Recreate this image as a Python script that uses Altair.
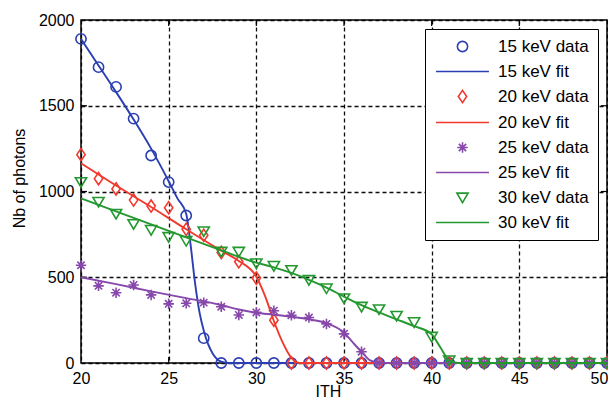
import altair as alt
import pandas as pd

# ---------------- data ----------------
ith = [20, 21, 22, 23, 24, 25, 26, 27, 28, 29, 30, 31, 32, 33, 34, 35,
       36, 37, 38, 39, 40, 41, 42, 43, 44, 45, 46, 47, 48, 49, 50]

counts_15kev = [1890, 1725, 1610, 1425, 1210, 1055, 860, 145, 0, 0, 0, 0, 0, 0, 0, 0,
                0, 0, 0, 0, 0, 0, 0, 0, 0, 0, 0, 0, 0, 0, 0]
counts_20kev = [1215, 1075, 1015, 950, 915, 905, 780, 745, 645, 590, 495, 250, 0, 0, 0, 0,
                0, 0, 0, 0, 0, 0, 0, 0, 0, 0, 0, 0, 0, 0, 0]
counts_25kev = [570, 450, 410, 455, 397, 345, 348, 352, 328, 280, 295, 305, 278, 265, 228, 170,
                66, 0, 0, 0, 0, 0, 0, 0, 0, 0, 0, 0, 0, 0, 0]
counts_30kev = [1055, 940, 870, 810, 776, 735, 712, 768, 649, 649, 581, 566, 542, 484, 435, 377,
                328, 313, 275, 238, 153, 15, 0, 0, 0, 0, 0, 0, 0, 0, 0]

fit_15_x = [20, 21, 22, 23, 24, 25, 25.5, 26, 26.25, 26.5, 26.75, 27, 27.25, 27.5, 28, 28.5, 50]
fit_15_y = [1890, 1735, 1580, 1420, 1250, 1060, 960, 870, 690, 470, 300, 190, 110, 57, 8, 0, 0]
fit_20_x = [20, 22, 24, 26, 28, 29, 30, 30.5, 31, 31.5, 32, 32.5, 50]
fit_20_y = [1165, 1035, 910, 780, 655, 595, 503, 390, 245, 120, 30, 0, 0]
fit_25_x = [20, 22, 24, 26, 28, 29, 30, 31, 32, 33, 34, 35, 35.5, 36, 36.5, 37, 50]
fit_25_y = [500, 460, 418, 378, 338, 312, 293, 282, 270, 255, 232, 177, 120, 65, 15, 0, 0]
fit_30_x = [20, 22, 24, 26, 28, 30, 31, 32, 33, 34, 35, 36, 37, 38, 39, 40, 40.5, 41, 41.5, 50]
fit_30_y = [960, 884, 808, 732, 657, 585, 558, 525, 485, 440, 387, 337, 295, 255, 215, 168, 90, 15, 0, 0]

energies = ["15 keV", "20 keV", "25 keV", "30 keV"]
series_colors = ["#2b3fb2", "#f03a2e", "#8748ab", "#23982f"]

x_tick_values = [25, 30, 35, 40, 45]
y_tick_values = [500, 1000, 1500]

# ---------------- styling ----------------
FONT = "Liberation Sans"
W, H = 526, 343

asterisk = "M0,-1L0,1M-1,0L1,0M-0.7,-0.7L0.7,0.7M-0.7,0.7L0.7,-0.7"
diamond = "M0,-1L0.68,0L0,1L-0.68,0Z"
tri_down = "M-1,-0.78L1,-0.78L0,0.92Z"
legend_line = "M-5,0L5,0"  # long horizontal stroke for the legend's fit entries
marker_shapes = ["circle", diamond, asterisk, tri_down]
marker_sizes = [105, 150, 110, 125]
LINE_SIZE = 112

labels, colors, shapes, sizes = [], [], [], []
for e, c, s, z in zip(energies, series_colors, marker_shapes, marker_sizes):
    labels += [f"{e} data", f"{e} fit"]
    colors += [c, c]
    shapes += [s, legend_line]
    sizes += [z, LINE_SIZE]

legend = alt.Legend(
    title=None, orient="none", legendX=344, legendY=9,
    fillColor="white", strokeColor="black", padding=9,
    labelFont=FONT, labelFontSize=17, labelColor="black",
    symbolOffset=20, labelOffset=27,
    symbolStrokeWidth=1.6, rowPadding=7, labelLimit=300,
)
color_scale = alt.Scale(domain=labels, range=colors)
shape_scale = alt.Scale(domain=labels, range=shapes)
size_scale = alt.Scale(domain=labels, range=sizes, type="ordinal")

x_scale = alt.Scale(domain=[20, 50], nice=False, zero=False)
y_scale = alt.Scale(domain=[0, 2000], nice=False)

x_enc = alt.X("ITH:Q", scale=x_scale,
              axis=alt.Axis(title="ITH", values=[20, 25, 30, 35, 40, 45, 50], format="d",
                            labelFlush=False,
                            labelOffset={"expr": "datum.value == 50 ? -8 : 0"},
                            titleX=247, titleY=20, titleBaseline="top"))
y_enc = alt.Y("count:Q", scale=y_scale,
              axis=alt.Axis(title="Nb of photons", values=[0, 500, 1000, 1500, 2000], format="d",
                            labelFlush=False,
                            titleX=-54, titleY=158))

data_lists = [counts_15kev, counts_20kev, counts_25kev, counts_30kev]
fit_lists = [(fit_15_x, fit_15_y), (fit_20_x, fit_20_y), (fit_25_x, fit_25_y), (fit_30_x, fit_30_y)]

layers = []
for e, counts, (fx, fy) in zip(energies, data_lists, fit_lists):
    pts = pd.DataFrame({"ITH": ith, "count": counts, "label": f"{e} data"})
    fit = pd.DataFrame({"ITH": fx, "count": fy, "label": f"{e} fit"})
    layers.append(
        alt.Chart(pts).mark_point(filled=False, opacity=1, strokeWidth=1.6).encode(
            x=x_enc, y=y_enc,
            color=alt.Color("label:N", scale=color_scale, legend=legend),
            shape=alt.Shape("label:N", scale=shape_scale, legend=legend),
            size=alt.Size("label:N", scale=size_scale, legend=legend),
        )
    )
    layers.append(
        alt.Chart(fit).mark_line(strokeWidth=1.9, interpolate="monotone").encode(
            x=x_enc, y=y_enc,
            color=alt.Color("label:N", scale=color_scale, legend=legend),
        )
    )

# inward tick marks (MATLAB style)
xt = pd.DataFrame({"ITH": x_tick_values})
yt = pd.DataFrame({"count": y_tick_values})
tick_layers = [
    alt.Chart(xt).mark_rule(color="black", strokeWidth=1.2).encode(
        x=alt.X("ITH:Q", scale=x_scale), y=alt.value(H), y2=alt.value(H - 6)),
    alt.Chart(xt).mark_rule(color="black", strokeWidth=1.2).encode(
        x=alt.X("ITH:Q", scale=x_scale), y=alt.value(0), y2=alt.value(6)),
    alt.Chart(yt).mark_rule(color="black", strokeWidth=1.2).encode(
        y=alt.Y("count:Q", scale=y_scale), x=alt.value(0), x2=alt.value(6)),
    alt.Chart(yt).mark_rule(color="black", strokeWidth=1.2).encode(
        y=alt.Y("count:Q", scale=y_scale), x=alt.value(W), x2=alt.value(W - 6)),
]

chart = alt.layer(*tick_layers, *layers).properties(
    width=W, height=H,
    autosize=alt.AutoSizeParams(type="none"),
    padding={"left": 73, "top": 12, "right": 1, "bottom": 37},
    background="white",
).configure_view(
    stroke="black", strokeWidth=1.5
).configure_axis(
    grid=True, gridColor="black", gridDash=[4, 3], gridWidth=1.3, gridOpacity=0.95,
    domain=False, ticks=False,
    labelFont=FONT, labelFontSize=16, labelColor="black", labelPadding=7,
    titleFont=FONT, titleFontSize=16, titleColor="black", titleFontWeight="normal",
)

chart.save("out.html", embed_options={"renderer": "svg", "actions": False})
